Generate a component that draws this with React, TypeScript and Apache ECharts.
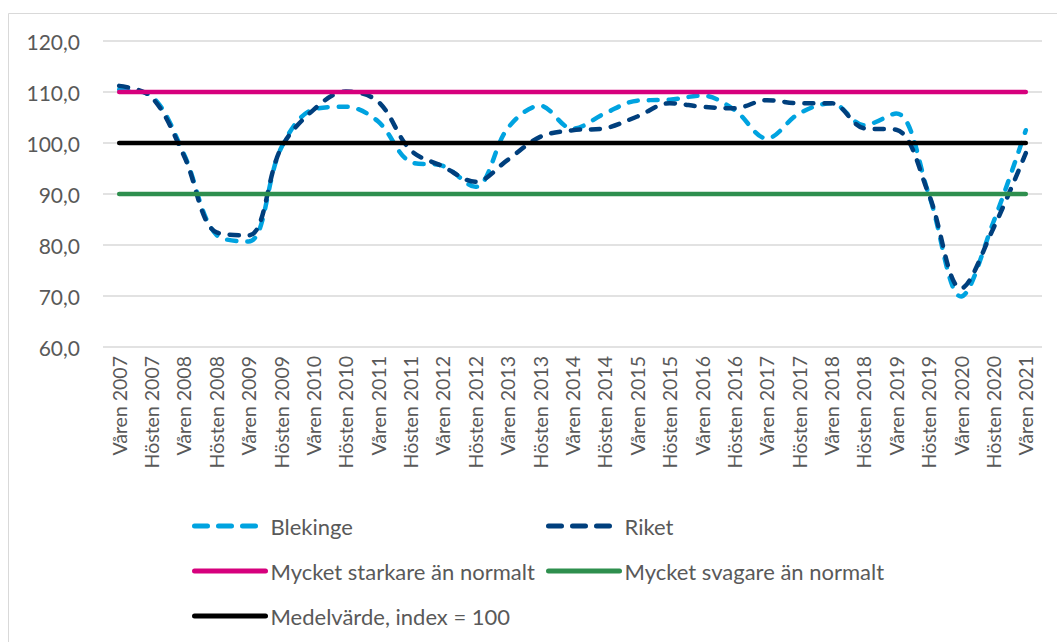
import React, { useEffect, useRef } from "react";
import * as echarts from "echarts";

const categories = [
  "Våren 2007", "Hösten 2007", "Våren 2008", "Hösten 2008", "Våren 2009", "Hösten 2009",
  "Våren 2010", "Hösten 2010", "Våren 2011", "Hösten 2011", "Våren 2012", "Hösten 2012",
  "Våren 2013", "Hösten 2013", "Våren 2014", "Hösten 2014", "Våren 2015", "Hösten 2015",
  "Våren 2016", "Hösten 2016", "Våren 2017", "Hösten 2017", "Våren 2018", "Hösten 2018",
  "Våren 2019", "Hösten 2019", "Våren 2020", "Hösten 2020", "Våren 2021",
];

const blekinge = [
  110.5, 109.2, 97.8, 82.0, 80.7, 99.0, 106.6, 107.1, 104.2, 96.3, 95.5, 91.4, 102.9, 107.3,
  102.8, 105.8, 108.3, 108.5, 109.3, 106.5, 100.9, 105.8, 107.8, 103.5, 105.8, 90.0, 69.9,
  84.5, 102.5,
];

const riket = [
  111.2, 109.0, 97.5, 82.5, 81.9, 99.0, 106.5, 110.1, 108.1, 98.6, 95.4, 92.4, 96.7, 101.2,
  102.5, 102.9, 105.2, 107.8, 107.1, 106.8, 108.4, 107.8, 107.8, 102.9, 102.6, 90.0, 71.5,
  83.3, 98.0,
];

const starkareLevel = 110;
const svagareLevel = 90;
const medelLevel = 100;

const yTicks = { min: 60, max: 120, interval: 10 };

const FONT = "Lato, 'Open Sans', sans-serif";
const TEXT = "#595959";

export default function App() {
  const ref = useRef<HTMLDivElement>(null);
  useEffect(() => {
    document.body.style.margin = "0";
    const chart = echarts.init(ref.current!, null, { renderer: "svg" });
    const dash = [9, 11];
    const lw = 4.5;
    const mkLegend = (name: string, left: number, top: number, dashed: boolean) => ({
      data: [name],
      left,
      top,
      itemWidth: 71,
      itemHeight: 14,
      itemGap: 0,
      padding: 0,
      itemStyle: { opacity: 0 },
      lineStyle: dashed
        ? { width: 5, type: [13, 11], cap: "round" }
        : { width: 5, type: "solid", cap: "round" },
      textStyle: { fontFamily: FONT, fontSize: 22, color: TEXT },
    });
    chart.setOption({
      animation: false,
      backgroundColor: "#ffffff",
      textStyle: { fontFamily: FONT },
      graphic: [
        {
          type: "rect",
          shape: { x: 8.5, y: 13.5, width: 1060, height: 650 },
          style: { fill: "none", stroke: "#D9D9D9", lineWidth: 1 },
          silent: true,
        },
      ],
      grid: { left: 103, right: 15, top: 41, bottom: 295 },
      legend: [
        mkLegend("Blekinge", 192, 515, true),
        mkLegend("Riket", 546, 515, true),
        mkLegend("Mycket starkare än normalt", 192, 560, false),
        mkLegend("Mycket svagare än normalt", 546, 560, false),
        mkLegend("Medelvärde, index = 100", 192, 605, false),
      ],
      xAxis: {
        type: "category",
        data: categories,
        boundaryGap: true,
        axisLine: { show: false },
        axisTick: { show: false },
        axisLabel: {
          rotate: 90,
          interval: 0,
          margin: 9,
          fontFamily: FONT,
          fontSize: 19.5,
          color: TEXT,
        },
      },
      yAxis: {
        type: "value",
        min: yTicks.min,
        max: yTicks.max,
        interval: yTicks.interval,
        axisLine: { show: false },
        axisTick: { show: false },
        splitLine: { lineStyle: { color: "#D9D9D9", width: 1.5 } },
        axisLabel: {
          margin: 23,
          fontFamily: FONT,
          fontSize: 21,
          color: TEXT,
          formatter: (v: number) => v.toFixed(1).replace(".", ","),
        },
      },
      series: [
        {
          name: "Blekinge",
          type: "line",
          data: blekinge,
          smooth: 0.35,
          symbol: "none",
          color: "#00A3E0",
          lineStyle: { color: "#00A3E0", width: lw, type: dash, cap: "round" },
          z: 3,
        },
        {
          name: "Riket",
          type: "line",
          data: riket,
          smooth: 0.35,
          symbol: "none",
          color: "#003F7D",
          lineStyle: { color: "#003F7D", width: lw, type: dash, cap: "round" },
          z: 4,
        },
        {
          name: "Mycket starkare än normalt",
          type: "line",
          data: categories.map(() => starkareLevel),
          symbol: "none",
          color: "#D6007D",
          lineStyle: { color: "#D6007D", width: lw, cap: "round" },
          z: 5,
        },
        {
          name: "Mycket svagare än normalt",
          type: "line",
          data: categories.map(() => svagareLevel),
          symbol: "none",
          color: "#2E8F4E",
          lineStyle: { color: "#2E8F4E", width: lw, cap: "round" },
          z: 5,
        },
        {
          name: "Medelvärde, index = 100",
          type: "line",
          data: categories.map(() => medelLevel),
          symbol: "none",
          color: "#000000",
          lineStyle: { color: "#000000", width: lw, cap: "round" },
          z: 5,
        },
      ],
    });
    return () => chart.dispose();
  }, []);
  return <div ref={ref} style={{ width: 1057, height: 642 }} />;
}
